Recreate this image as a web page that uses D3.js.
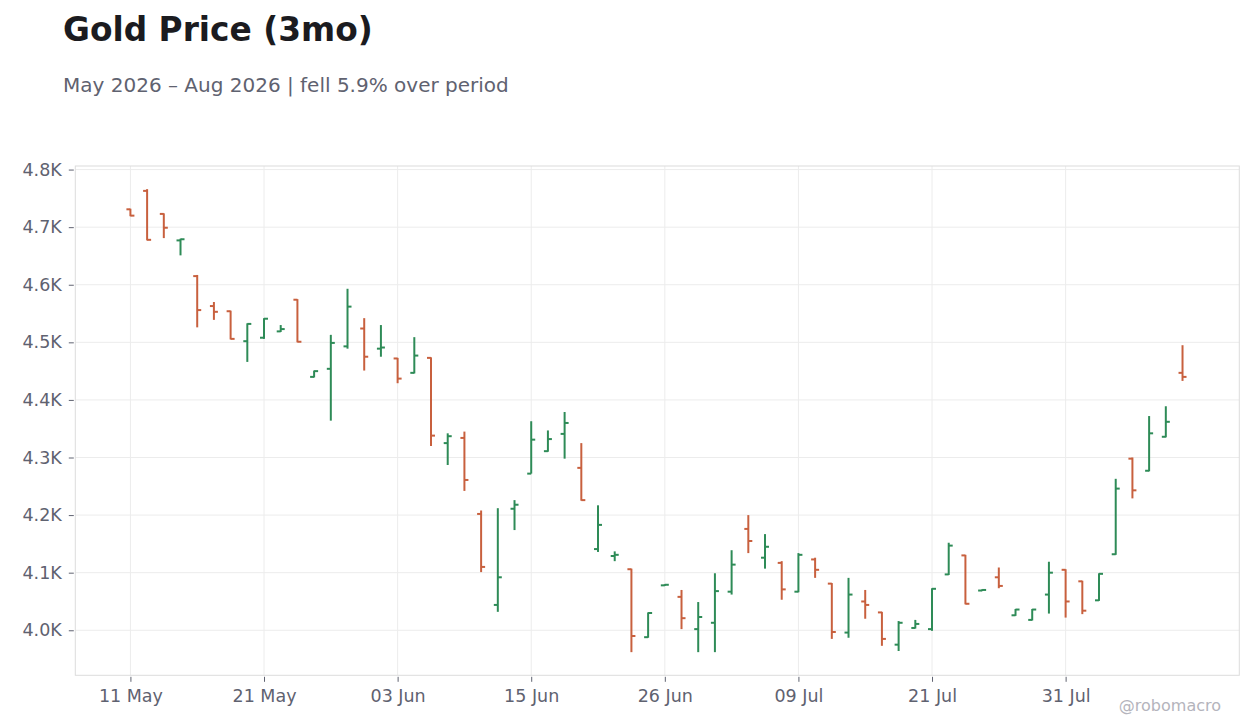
<!DOCTYPE html>
<html>
<head>
<meta charset="utf-8">
<script src="https://cdn.jsdelivr.net/npm/d3@7/dist/d3.min.js"></script>
<style>
  html, body { margin: 0; padding: 0; background: #ffffff; }
  svg { display: block; font-family: "DejaVu Sans", sans-serif; }
</style>
</head>
<body>
<svg id="chart" width="1260" height="728"></svg>
<script>
// ---- data ----
const dates = [
  "2026-05-11","2026-05-12","2026-05-13","2026-05-14","2026-05-15",
  "2026-05-18","2026-05-19","2026-05-20","2026-05-21","2026-05-22",
  "2026-05-26","2026-05-27","2026-05-28","2026-05-29",
  "2026-06-01","2026-06-02","2026-06-03","2026-06-04","2026-06-05",
  "2026-06-08","2026-06-09","2026-06-10","2026-06-11","2026-06-12",
  "2026-06-15","2026-06-16","2026-06-17","2026-06-18",
  "2026-06-22","2026-06-23","2026-06-24","2026-06-25","2026-06-26",
  "2026-06-29","2026-06-30","2026-07-01","2026-07-02",
  "2026-07-06","2026-07-07","2026-07-08","2026-07-09","2026-07-10",
  "2026-07-13","2026-07-14","2026-07-15","2026-07-16","2026-07-17",
  "2026-07-20","2026-07-21","2026-07-22","2026-07-23","2026-07-24",
  "2026-07-27","2026-07-28","2026-07-29","2026-07-30","2026-07-31",
  "2026-08-03","2026-08-04","2026-08-05","2026-08-06","2026-08-07",
  "2026-08-10","2026-08-11"
];
const opens  = [4731,4763,4723,4677,4615,4563,4554,4502,4508,4519,4574,4440,4454,4493,4524,4489,4472,4447,4473,4325,4334,4202,4044,4211,4272,4311,4341,4282,4141,4129,4106,3988,4078,4058,4002,4013,4067,4176,4126,4117,4067,4123,4081,3996,4050,4031,3975,4004,4002,4097,4130,4069,4092,4026,4018,4062,4105,4085,4052,4132,4298,4277,4336,4447];
const highs  = [4732,4766,4724,4680,4617,4570,4555,4533,4542,4530,4575,4451,4513,4593,4542,4530,4473,4509,4474,4342,4345,4208,4212,4226,4363,4347,4379,4325,4217,4137,4107,4031,4080,4070,4049,4099,4139,4200,4167,4120,4134,4126,4082,4091,4070,4032,4016,4018,4073,4152,4131,4071,4109,4037,4037,4119,4106,4086,4099,4263,4300,4372,4389,4495];
const lows   = [4719,4677,4681,4651,4526,4539,4505,4466,4506,4518,4500,4439,4364,4489,4451,4475,4429,4446,4320,4287,4242,4101,4032,4174,4272,4310,4298,4225,4136,4120,3962,3987,4077,4002,3962,3962,4062,4134,4107,4053,4066,4091,3985,3987,4020,3973,3964,4003,3999,4096,4045,4068,4073,4025,4017,4029,4022,4028,4051,4131,4229,4276,4335,4433];
const closes = [4720,4678,4699,4679,4556,4553,4506,4532,4541,4523,4501,4450,4499,4562,4475,4491,4437,4477,4338,4337,4261,4110,4092,4218,4331,4332,4360,4226,4183,4131,3990,4030,4079,4021,4023,4068,4114,4155,4145,4071,4131,4105,3997,4062,4044,3985,4013,4011,4072,4147,4046,4070,4077,4036,4036,4100,4050,4034,4098,4246,4243,4342,4362,4440];
const yTicks = [4000,4100,4200,4300,4400,4500,4600,4700,4800];
const xTickIdx = [0,8,16,24,32,40,48,56];

const titleText = "Gold Price (3mo)";
const subtitleText = "May 2026 \u2013 Aug 2026 | fell 5.9% over period";
const watermark = "@robomacro";

// ---- layout ----
const W = 1260, H = 728;
const plot = {left: 75.3, right: 1239.3, top: 166, bottom: 675.3};
const UP = "#2e8b57", DOWN = "#c8603e";
const textCol = "#5f6270";

const parse = d3.timeParse("%Y-%m-%d");
const fmtDate = d3.timeFormat("%d %b");
const bars = dates.map((d, i) => ({i, date: parse(d), o: opens[i], h: highs[i], l: lows[i], c: closes[i]}));

const yMin = d3.min(lows), yMax = d3.max(highs);
const pad = (yMax - yMin) * 0.05;
const y = d3.scaleLinear().domain([yMin - pad, yMax + pad]).range([plot.bottom, plot.top]);
const x = d3.scaleLinear().domain([-3.3, 66.4]).range([plot.left, plot.right]);

const svg = d3.select("#chart");

// title
svg.append("text").attr("x", 63).attr("y", 40.5)
  .attr("font-size", 32.8).attr("font-weight", "bold").attr("fill", "#1b1b20")
  .text(titleText);
svg.append("text").attr("x", 63).attr("y", 91.5)
  .attr("font-size", 20).attr("fill", textCol)
  .text(subtitleText);

// grid
const g = svg.append("g");
g.selectAll("line.hg").data(yTicks).join("line")
  .attr("x1", plot.left).attr("x2", plot.right)
  .attr("y1", d => y(d)).attr("y2", d => y(d))
  .attr("stroke", "#ececec").attr("stroke-width", 1);
g.selectAll("line.vg").data(xTickIdx).join("line")
  .attr("x1", d => x(d)).attr("x2", d => x(d))
  .attr("y1", plot.top).attr("y2", plot.bottom)
  .attr("stroke", "#ececec").attr("stroke-width", 1);

// frame
g.append("rect").attr("x", plot.left).attr("y", plot.top)
  .attr("width", plot.right - plot.left).attr("height", plot.bottom - plot.top)
  .attr("fill", "none").attr("stroke", "#dcdcdc").attr("stroke-width", 1);

// y axis
const yAxis = d3.axisLeft(y).tickValues(yTicks)
  .tickFormat(d => (d / 1000).toFixed(1) + "K")
  .tickSize(5).tickPadding(7);
const ya = svg.append("g").attr("transform", `translate(${plot.left - 1.5},0)`).call(yAxis);
ya.select(".domain").remove();
ya.selectAll(".tick line").attr("stroke", textCol);
ya.selectAll(".tick text").attr("fill", textCol).attr("font-size", 17.5)
  .attr("font-family", "DejaVu Sans, sans-serif");

// x axis
const xAxis = d3.axisBottom(x).tickValues(xTickIdx)
  .tickFormat(i => fmtDate(bars[i].date))
  .tickSize(5).tickPadding(8);
const xa = svg.append("g").attr("transform", `translate(0,${plot.bottom + 1.5})`).call(xAxis);
xa.select(".domain").remove();
xa.selectAll(".tick line").attr("stroke", textCol);
xa.selectAll(".tick text").attr("fill", textCol).attr("font-size", 17.5)
  .attr("font-family", "DejaVu Sans, sans-serif");

// OHLC bars
const bg = svg.append("g");
const tick = 4;
const col = d => d.c >= d.o ? UP : DOWN;
const bar = bg.selectAll("g.bar").data(bars).join("g");
bar.append("line")
  .attr("x1", d => x(d.i)).attr("x2", d => x(d.i))
  .attr("y1", d => y(d.h)).attr("y2", d => y(d.l))
  .attr("stroke", col).attr("stroke-width", 2);
bar.append("line")
  .attr("x1", d => x(d.i) - tick).attr("x2", d => x(d.i))
  .attr("y1", d => y(d.o)).attr("y2", d => y(d.o))
  .attr("stroke", col).attr("stroke-width", 2);
bar.append("line")
  .attr("x1", d => x(d.i)).attr("x2", d => x(d.i) + tick)
  .attr("y1", d => y(d.c)).attr("y2", d => y(d.c))
  .attr("stroke", col).attr("stroke-width", 2);

// watermark
svg.append("text").attr("x", 1221).attr("y", 711)
  .attr("text-anchor", "end").attr("font-size", 16).attr("fill", "#b4b4bc")
  .text(watermark);
</script>
</body>
</html>
